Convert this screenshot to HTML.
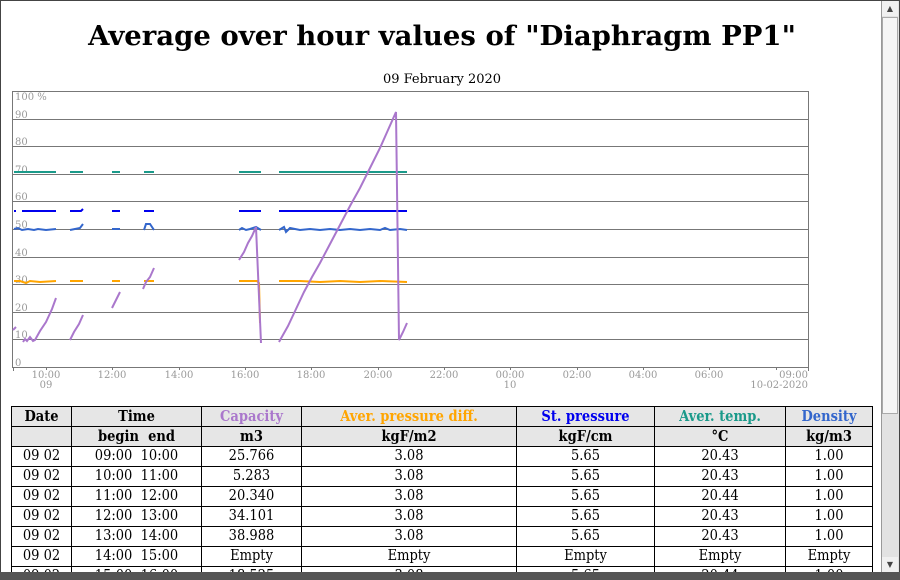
<!DOCTYPE html>
<html><head><meta charset="utf-8"><style>
html,body{margin:0;padding:0;width:900px;height:580px;overflow:hidden;background:#fff;font-family:"DejaVu Serif",serif}
.frame{position:absolute;left:0;top:0;width:898px;height:572px;border:1px solid #444;border-bottom:none}
.bot{position:absolute;left:0;top:572px;width:900px;height:8px;background:#555}
.sb{position:absolute;left:881px;top:1px;width:17px;height:571px;background:#e2e2e2;border-left:1px solid #999}
.thumb{position:absolute;left:0;top:16px;width:16px;height:397px;background:#f6f6f6;border:1px solid #aaa;box-sizing:border-box}
.arr{position:absolute;left:0;width:16px;height:15px;background:#f0f0f0;font-size:8px;text-align:center;line-height:15px;color:#444}
h1{position:absolute;left:0;width:884px;top:20px;margin:0;text-align:center;font-size:27.5px;font-weight:bold;white-space:nowrap}
.sub{position:absolute;left:0;width:884px;top:72px;text-align:center;font-size:13px}
.tw{position:absolute;left:0;top:0;width:881px;height:572px;overflow:hidden}
table{position:absolute;left:11px;top:406px;border-collapse:collapse;font-size:14.5px;font-family:"DejaVu Serif Condensed","DejaVu Serif",serif;font-stretch:condensed}
td{border:1px solid #000;height:19px;padding:0;text-align:center;line-height:19px;white-space:nowrap}
tr.h td{background:#e6e6e6;font-weight:bold}
</style></head><body>
<div class="frame"></div>
<h1>Average over hour values of "Diaphragm PP1"</h1>
<div class="sub">09 February 2020</div>
<svg style="position:absolute;left:0;top:0" width="882" height="400" font-family="DejaVu Serif,serif" font-size="10" fill="#999">
<rect x="12.5" y="91.5" width="796" height="276" fill="none" stroke="#777"/>
<g stroke="#777" stroke-width="1">
<line x1="12" x2="808" y1="119.5" y2="119.5"/><line x1="12" x2="808" y1="146.5" y2="146.5"/><line x1="12" x2="808" y1="174.5" y2="174.5"/><line x1="12" x2="808" y1="201.5" y2="201.5"/><line x1="12" x2="808" y1="229.5" y2="229.5"/><line x1="12" x2="808" y1="257.5" y2="257.5"/><line x1="12" x2="808" y1="284.5" y2="284.5"/><line x1="12" x2="808" y1="312.5" y2="312.5"/><line x1="12" x2="808" y1="339.5" y2="339.5"/>
</g>
<rect x="12" y="367" width="797" height="1" fill="#fff"/>
<line x1="12" x2="808" y1="367.5" y2="367.5" stroke="#777"/>
<g stroke="#777"><line x1="13.5" x2="13.5" y1="367" y2="371"/><line x1="46.5" x2="46.5" y1="367" y2="370"/><line x1="112.5" x2="112.5" y1="367" y2="370"/><line x1="179.5" x2="179.5" y1="367" y2="370"/><line x1="245.5" x2="245.5" y1="367" y2="370"/><line x1="311.5" x2="311.5" y1="367" y2="370"/><line x1="378.5" x2="378.5" y1="367" y2="370"/><line x1="444.5" x2="444.5" y1="367" y2="370"/><line x1="510.5" x2="510.5" y1="367" y2="370"/><line x1="577.5" x2="577.5" y1="367" y2="370"/><line x1="643.5" x2="643.5" y1="367" y2="370"/><line x1="709.5" x2="709.5" y1="367" y2="370"/><line x1="776.5" x2="776.5" y1="367" y2="370"/><line x1="808.5" x2="808.5" y1="367" y2="371"/></g>
<text x="15" y="100">100 %</text><text x="15" y="118">90</text><text x="15" y="145">80</text><text x="15" y="173">70</text><text x="15" y="200">60</text><text x="15" y="228">50</text><text x="15" y="256">40</text><text x="15" y="283">30</text><text x="15" y="311">20</text><text x="15" y="338">10</text><text x="15" y="366">0</text>
<g text-anchor="middle"><text x="46" y="378">10:00</text><text x="46" y="388">09</text><text x="112" y="378">12:00</text><text x="179" y="378">14:00</text><text x="245" y="378">16:00</text><text x="311" y="378">18:00</text><text x="378" y="378">20:00</text><text x="444" y="378">22:00</text><text x="510" y="378">00:00</text><text x="510" y="388">10</text><text x="577" y="378">02:00</text><text x="643" y="378">04:00</text><text x="709" y="378">06:00</text></g>
<g text-anchor="end"><text x="808" y="378">09:00</text><text x="808" y="388">10-02-2020</text></g>
<g fill="none" stroke-width="2">
<g stroke="#1a9a8a"><path d="M14 172H56M70 172H83M112 172H120M144 172H154M239 172H261M279 172H407"/></g>
<g stroke="#0000ee"><path d="M14 211H16M22 211H56M70 211H81L83 209M112 211H120M144 211H154M239 211H261M279 211H407"/></g>
<g stroke="#3366cc"><path d="M14 229L18 228L22 230L28 229L34 230L38 229L46 230L56 229M70 230L80 228L83 224M112 229L120 229M144 230L146 224L150 224L154 230M239 230L242 228L246 230L250 229L256 227L261 230M279 230L284 227L286 232L290 228L300 230L310 229L320 230L330 229L340 230L350 229L360 230L370 229L380 230L385 228L390 230L400 229L407 230"/></g>
<g stroke="#ffa500"><path d="M14 281L20 281L26 283L30 281L40 282L56 281M70 281H83M112 281H120M144 281H154M239 281H257L259 283L260 323M279 281H300L320 282L340 281L360 282L380 281L407 282"/></g>
<g stroke="#aa77cc"><path d="M13 330L16 327M23 342L25 339L27 341L30 337L33 341L35 340L40 331L46 322L52 309L56 298M70 340L74 332L79 324L83 315M112 308L116 300L120 292M143 289L146 282L150 277L154 268M239 260L244 252L248 243L252 236L256 227L261 343M279 342L288 326L296 309L304 292L312 277L320 263L330 244L340 225L350 206L360 188L370 168L380 148L388 130L396 112L399 340L403 332L407 323"/></g>
</g>
</svg>
<div class="tw">
<table>
<colgroup><col style="width:60px"><col style="width:130px"><col style="width:100px"><col style="width:215px"><col style="width:138px"><col style="width:131px"><col style="width:87px"></colgroup>
<tr class="h"><td>Date</td><td>Time</td><td style="color:#aa77cc">Capacity</td><td style="color:#ffa500">Aver. pressure diff.</td><td style="color:#0000ee">St. pressure</td><td style="color:#1a9a8a">Aver. temp.</td><td style="color:#3366cc">Density</td></tr>
<tr class="h"><td></td><td>begin&nbsp; end</td><td>m3</td><td>kgF/m2</td><td>kgF/cm</td><td>°C</td><td>kg/m3</td></tr>
<tr><td>09 02</td><td>09:00&nbsp; 10:00</td><td>25.766</td><td>3.08</td><td>5.65</td><td>20.43</td><td>1.00</td></tr>
<tr><td>09 02</td><td>10:00&nbsp; 11:00</td><td>5.283</td><td>3.08</td><td>5.65</td><td>20.43</td><td>1.00</td></tr>
<tr><td>09 02</td><td>11:00&nbsp; 12:00</td><td>20.340</td><td>3.08</td><td>5.65</td><td>20.44</td><td>1.00</td></tr>
<tr><td>09 02</td><td>12:00&nbsp; 13:00</td><td>34.101</td><td>3.08</td><td>5.65</td><td>20.43</td><td>1.00</td></tr>
<tr><td>09 02</td><td>13:00&nbsp; 14:00</td><td>38.988</td><td>3.08</td><td>5.65</td><td>20.43</td><td>1.00</td></tr>
<tr><td>09 02</td><td>14:00&nbsp; 15:00</td><td>Empty</td><td>Empty</td><td>Empty</td><td>Empty</td><td>Empty</td></tr>
<tr><td>09 02</td><td>15:00&nbsp; 16:00</td><td>18.525</td><td>3.08</td><td>5.65</td><td>20.44</td><td>1.00</td></tr>
</table>
</div>
<div class="sb"><div class="arr" style="top:0">▲</div><div class="thumb"></div><div class="arr" style="top:556px">▼</div></div>
<div class="bot"></div>
</body></html>
